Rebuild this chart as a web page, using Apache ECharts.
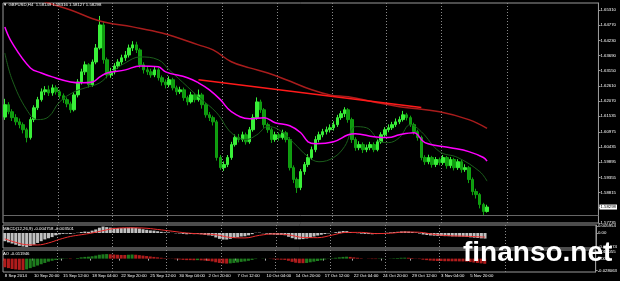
<!DOCTYPE html>
<html><head><meta charset="utf-8">
<script src="https://cdn.jsdelivr.net/npm/echarts@6/dist/echarts.min.js"></script>
<style>html,body{margin:0;padding:0;background:#000;}#c{width:620px;height:281px;}</style>
</head><body><div id="c"></div>
<script>
const timeLabels = ['8 Sep 2014','10 Sep 20:00','15 Sep 12:00','18 Sep 04:00','22 Sep 20:00','25 Sep 12:00','30 Sep 04:00','2 Oct 20:00','7 Oct 12:00','10 Oct 04:00','14 Oct 20:00','17 Oct 12:00','22 Oct 04:00','24 Oct 20:00','29 Oct 12:00','3 Nov 04:00','5 Nov 20:00'];
const priceTicks = [1.65310,1.64770,1.64230,1.63690,1.63150,1.62610,1.62070,1.61535,1.60975,1.60435,1.59895,1.59355,1.58815,1.58275,1.57735];
const macdTicks = [0.005954, 0, -0.011974];
const aoTicks = [0.016055, 0, -0.028063];
const lastPrice = 1.58298;
const gridLineIdx = [15,30,45,60,75,90,105,120,138];
const totalSlots = 163;

const opens = [1.6150,1.6194,1.6169,1.6148,1.6133,1.6123,1.6105,1.6077,1.6141,1.6183,
 1.6212,1.6240,1.6247,1.6236,1.6254,1.6240,1.6226,1.6212,1.6197,1.6176,
 1.6229,1.6275,1.6311,1.6336,1.6265,1.6346,1.6396,1.6478,1.6354,1.6300,
 1.6311,1.6332,1.6346,1.6361,1.6371,1.6396,1.6407,1.6389,1.6336,1.6318,
 1.6311,1.6300,1.6318,1.6290,1.6275,1.6265,1.6283,1.6254,1.6240,1.6247,
 1.6219,1.6204,1.6229,1.6212,1.6229,1.6194,1.6158,1.6148,1.6133,1.6006,
 1.5970,1.5981,1.6006,1.6052,1.6077,1.6070,1.6087,1.6062,1.6105,1.6148,
 1.6204,1.6176,1.6123,1.6105,1.6070,1.6087,1.6077,1.6094,1.6070,1.5970,
 1.5928,1.5899,1.5956,1.5981,1.6006,1.6034,1.6070,1.6087,1.6098,1.6105,
 1.6112,1.6123,1.6148,1.6162,1.6176,1.6141,1.6070,1.6041,1.6052,1.6034,
 1.6041,1.6052,1.6034,1.6062,1.6087,1.6105,1.6112,1.6123,1.6133,1.6141,
 1.6158,1.6148,1.6123,1.6098,1.6077,1.6006,1.5991,1.6006,1.5981,1.5999,
 1.5988,1.6006,1.5977,1.5999,1.5970,1.5991,1.5963,1.5970,1.5928,1.5885,
 1.5874,1.5839,1.5814];
const closes = [1.6194,1.6169,1.6148,1.6133,1.6123,1.6105,1.6077,1.6141,1.6183,1.6212,
 1.6240,1.6247,1.6236,1.6254,1.6240,1.6226,1.6212,1.6197,1.6176,1.6229,
 1.6275,1.6311,1.6336,1.6265,1.6346,1.6396,1.6478,1.6354,1.6300,1.6311,
 1.6332,1.6346,1.6361,1.6371,1.6396,1.6407,1.6389,1.6336,1.6318,1.6311,
 1.6300,1.6318,1.6290,1.6275,1.6265,1.6283,1.6254,1.6240,1.6247,1.6219,
 1.6204,1.6229,1.6212,1.6229,1.6194,1.6158,1.6148,1.6133,1.6006,1.5970,
 1.5981,1.6006,1.6052,1.6077,1.6070,1.6087,1.6062,1.6105,1.6148,1.6204,
 1.6176,1.6123,1.6105,1.6070,1.6087,1.6077,1.6094,1.6070,1.5970,1.5928,
 1.5899,1.5956,1.5981,1.6006,1.6034,1.6070,1.6087,1.6098,1.6105,1.6112,
 1.6123,1.6148,1.6162,1.6176,1.6141,1.6070,1.6041,1.6052,1.6034,1.6041,
 1.6052,1.6034,1.6062,1.6087,1.6105,1.6112,1.6123,1.6133,1.6141,1.6158,
 1.6148,1.6123,1.6098,1.6077,1.6006,1.5991,1.6006,1.5981,1.5999,1.5988,
 1.6006,1.5977,1.5999,1.5970,1.5991,1.5963,1.5970,1.5928,1.5885,1.5874,
 1.5839,1.5814,1.58298];
const lows = [1.6140,1.6160,1.6136,1.6121,1.6110,1.6092,1.6060,1.6070,1.6132,1.6175,
 1.6205,1.6228,1.6225,1.6226,1.6230,1.6215,1.6200,1.6185,1.6165,1.6170,
 1.6220,1.6266,1.6300,1.6255,1.6258,1.6338,1.6390,1.6340,1.6288,1.6290,
 1.6302,1.6322,1.6336,1.6350,1.6362,1.6385,1.6378,1.6325,1.6305,1.6300,
 1.6290,1.6292,1.6280,1.6262,1.6252,1.6256,1.6245,1.6228,1.6232,1.6208,
 1.6192,1.6198,1.6202,1.6205,1.6180,1.6148,1.6136,1.6120,1.5995,1.5962,
 1.5958,1.5972,1.5998,1.6045,1.6060,1.6062,1.6052,1.6055,1.6098,1.6140,
 1.6165,1.6112,1.6094,1.6058,1.6062,1.6066,1.6070,1.6060,1.5960,1.5915,
 1.5880,1.5890,1.5945,1.5972,1.5998,1.6025,1.6060,1.6078,1.6088,1.6095,
 1.6102,1.6115,1.6140,1.6150,1.6130,1.6058,1.6030,1.6032,1.6022,1.6025,
 1.6032,1.6025,1.6028,1.6055,1.6080,1.6096,1.6104,1.6115,1.6125,1.6134,
 1.6138,1.6115,1.6088,1.6066,1.5996,1.5980,1.5982,1.5970,1.5972,1.5978,
 1.5980,1.5966,1.5968,1.5960,1.5962,1.5952,1.5955,1.5915,1.5872,1.5860,
 1.5825,1.5800,1.5810];
const highs = [1.6215,1.6203,1.6178,1.6160,1.6145,1.6131,1.6112,1.6150,1.6192,1.6222,
 1.6252,1.6260,1.6262,1.6266,1.6263,1.6248,1.6234,1.6220,1.6205,1.6238,
 1.6285,1.6322,1.6348,1.6342,1.6355,1.6410,1.6510,1.6490,1.6362,1.6325,
 1.6342,1.6356,1.6372,1.6385,1.6408,1.6420,1.6418,1.6395,1.6345,1.6330,
 1.6322,1.6330,1.6326,1.6298,1.6284,1.6295,1.6290,1.6262,1.6258,1.6255,
 1.6226,1.6240,1.6236,1.6248,1.6236,1.6200,1.6168,1.6155,1.6140,1.6015,
 1.5992,1.6015,1.6062,1.6088,1.6090,1.6098,1.6095,1.6115,1.6160,1.6220,
 1.6212,1.6182,1.6130,1.6112,1.6098,1.6095,1.6105,1.6100,1.6078,1.5978,
 1.5935,1.5965,1.5990,1.6018,1.6045,1.6082,1.6098,1.6108,1.6116,1.6124,
 1.6135,1.6158,1.6172,1.6185,1.6182,1.6148,1.6078,1.6064,1.6060,1.6052,
 1.6062,1.6060,1.6072,1.6096,1.6114,1.6124,1.6133,1.6145,1.6152,1.6172,
 1.6165,1.6155,1.6130,1.6105,1.6084,1.6014,1.6016,1.6012,1.6008,1.6006,
 1.6015,1.6012,1.6008,1.6005,1.6000,1.5998,1.5982,1.5976,1.5935,1.5895,
 1.5880,1.5845,1.5838];

const maSlow = [[8,1.6575],[12,1.6556],[18,1.6531],[26,1.6492],[35,1.6471],[43,1.6449],[53,1.6407],[57,1.6389],[62,1.6347],[67,1.6325],[72,1.6307],[77,1.6283],[84,1.6247],[89,1.6229],[94,1.6222],[101,1.6204],[108,1.6187],[119,1.6169],[127,1.6141],[132,1.6110]];
const maMid = [[0,1.6471],[2,1.6414],[7,1.6325],[10,1.6307],[13,1.6293],[18,1.6275],[21,1.6272],[24,1.6275],[26,1.6293],[28,1.6307],[33,1.6318],[37,1.6332],[42,1.6329],[44,1.6311],[50,1.6290],[53,1.6272],[56,1.6247],[59,1.6212],[62,1.6169],[67,1.6144],[71,1.6148],[74,1.6130],[78,1.6119],[81,1.6094],[83,1.6062],[85,1.6055],[90,1.6062],[94,1.6087],[96,1.6091],[101,1.6080],[105,1.6077],[108,1.6087],[112,1.6094],[115,1.6059],[122,1.6041],[127,1.6027],[131,1.6006],[132,1.5993]];
const maFast = [[0,1.6378],[2,1.6283],[6,1.6176],[9,1.6141],[12,1.6151],[15,1.6204],[19,1.6240],[22,1.6254],[26,1.6272],[29,1.6307],[33,1.6343],[37,1.6364],[42,1.6354],[45,1.6318],[50,1.6258],[53,1.6222],[58,1.6165],[62,1.6094],[66,1.6070],[69,1.6087],[72,1.6116],[75,1.6105],[79,1.6059],[83,1.6009],[86,1.5991],[90,1.6006],[93,1.6045],[96,1.6116],[99,1.6112],[103,1.6062],[105,1.6059],[108,1.6077],[111,1.6123],[114,1.6098],[119,1.6027],[124,1.6006],[130,1.5956],[132,1.5922]];
const trendLine = [[53,1.6283],[114,1.6184]];

const macdHist = [-0.0070,-0.0080,-0.0090,-0.0100,-0.0110,-0.0115,-0.01197,-0.0110,-0.0100,-0.0085,
 -0.0070,-0.0055,-0.0045,-0.0035,-0.0020,-0.0012,-0.0008,-0.0006,-0.0008,-0.0003,
 0.0002,0.0008,0.0012,0.0010,0.0020,0.0030,0.0045,0.0055,0.0050,0.0046,
 0.0044,0.0042,0.0042,0.0043,0.0045,0.0046,0.0044,0.0038,0.0032,0.0027,
 0.0022,0.0020,0.0015,0.0010,0.0006,0.0005,0.0001,-0.0003,-0.0004,-0.0008,
 -0.0011,-0.0009,-0.0010,-0.0008,-0.0011,-0.0016,-0.0020,-0.0024,-0.0038,-0.0050,
 -0.0056,-0.0056,-0.0050,-0.0042,-0.0037,-0.0030,-0.0028,-0.0020,-0.0010,0.0002,
 0.0003,-0.0002,-0.0006,-0.0012,-0.0014,-0.0016,-0.0016,-0.0019,-0.0032,-0.0044,
 -0.0054,-0.0054,-0.0052,-0.0047,-0.0040,-0.0030,-0.0022,-0.0015,-0.0009,-0.0004,
 0.0001,0.0007,0.0012,0.0017,0.0016,0.0008,0.0002,-0.0002,-0.0006,-0.0008,
 -0.0009,-0.0011,-0.0009,-0.0006,-0.0002,0.0002,0.0005,0.0008,0.0010,0.0013,
 0.0014,0.0012,0.0009,0.0005,-0.0005,-0.0013,-0.0017,-0.0021,-0.0023,-0.0025,
 -0.0025,-0.0027,-0.0027,-0.0029,-0.0029,-0.0030,-0.0031,-0.0034,-0.0037,-0.0040,
 -0.0043,-0.0046,-0.004758];
const macdSignal = [[0,-0.0050],[3,-0.0080],[6,-0.0100],[9,-0.0102],[12,-0.0085],[15,-0.0055],[18,-0.0030],[21,-0.0015],[24,0.0000],[27,0.0020],[30,0.0038],[34,0.0044],[38,0.0042],[42,0.0030],[46,0.0015],[50,0.0000],[54,-0.0008],[58,-0.0015],[62,-0.0038],[66,-0.0042],[70,-0.0020],[74,-0.0008],[78,-0.0016],[82,-0.0038],[86,-0.0040],[90,-0.0018],[94,0.0005],[98,0.0005],[102,-0.0005],[106,-0.0002],[110,0.0008],[114,0.0006],[118,-0.0012],[122,-0.0023],[126,-0.0027],[130,-0.0032],[132,-0.003501]];
const aoValues = [-0.0200,-0.0220,-0.0240,-0.0250,-0.0260,-0.0265,-0.0250,-0.0220,-0.0190,-0.0160,
 -0.0130,-0.0100,-0.0070,-0.0050,-0.0030,-0.0015,-0.0010,-0.0005,-0.0010,0.0000,
 0.0015,0.0030,0.0040,0.0045,0.0055,0.0070,0.0090,0.0100,0.0105,0.0100,
 0.0095,0.0090,0.0085,0.0085,0.0090,0.0095,0.0090,0.0080,0.0070,0.0060,
 0.0050,0.0040,0.0030,0.0020,0.0010,0.0005,-0.0005,-0.0015,-0.0020,-0.0030,
 -0.0035,-0.0035,-0.0038,-0.0035,-0.0040,-0.0045,-0.0055,-0.0065,-0.0085,-0.0100,
 -0.0110,-0.0115,-0.0110,-0.0100,-0.0090,-0.0075,-0.0065,-0.0050,-0.0030,-0.0010,
 0.0000,0.0005,0.0000,-0.0005,-0.0015,-0.0020,-0.0025,-0.0030,-0.0050,-0.0075,
 -0.0095,-0.0105,-0.0105,-0.0100,-0.0085,-0.0070,-0.0055,-0.0040,-0.0020,-0.0005,
 0.0010,0.0020,0.0030,0.0040,0.0045,0.0040,0.0030,0.0020,0.0010,0.0000,
 -0.0005,-0.0010,-0.0010,-0.0008,-0.0005,0.0000,0.0005,0.0010,0.0015,0.0020,
 0.0022,0.0020,0.0015,0.0005,-0.0010,-0.0025,-0.0035,-0.0045,-0.0050,-0.0055,
 -0.0055,-0.0060,-0.0060,-0.0062,-0.0062,-0.0064,-0.0065,-0.0070,-0.0080,-0.0090,
 -0.0100,-0.0110,-0.011946];

const categories = [];
for (let i = 0; i < totalSlots; i++) categories.push(String(i));
const candles = opens.map((o, i) => [o, closes[i], lows[i], highs[i]]);
let prevColor = '#b01c1c';
const aoData = aoValues.map((v, i) => {
  if (i > 0) {
    if (v > aoValues[i - 1]) prevColor = '#1e7b1e';
    else if (v < aoValues[i - 1]) prevColor = '#b01c1c';
  }
  return { value: v, itemStyle: { color: prevColor } };
});

const FONT = 'Liberation Sans';
const smallText = { color: '#fff', fontSize: 4.3, fontFamily: FONT, fontWeight: 'normal' };
const splitIv = (i) => gridLineIdx.indexOf(i) >= 0;
const xBase = (gi) => ({
  type: 'category', gridIndex: gi, data: categories, boundaryGap: true,
  axisLine: { show: false }, axisTick: { show: false }, axisLabel: { show: false },
  splitLine: { show: true, interval: splitIv, lineStyle: { color: '#8a8a8a', width: 1, type: [1, 2] } }
});
const xLast = xBase(2);
xLast.axisLabel = {
  show: true, interval: (i) => i % 8 === 0 && i / 8 < timeLabels.length,
  formatter: (v, i) => timeLabels[Math.round(i / 8)] || '', align: 'left',
  color: '#fff', fontSize: 4.3, fontFamily: FONT, margin: 2
};
xLast.axisTick = { show: true, interval: (i) => i % 8 === 0 && i / 8 < timeLabels.length, length: 2, lineStyle: { color: '#aaa' } };

const yBase = (gi, min, max, ticks, fmt) => ({
  type: 'value', gridIndex: gi, position: 'right', min: min, max: max, scale: true,
  axisLine: { show: true, lineStyle: { color: '#999' } },
  axisTick: { show: true, customValues: ticks, length: 2, lineStyle: { color: '#999' } },
  axisLabel: { show: true, customValues: ticks, formatter: fmt, color: '#fff', fontSize: 4.3, fontFamily: FONT, margin: 2 },
  splitLine: { show: false }
});
const priceBoxAxis = {
  type: 'value', gridIndex: 0, position: 'right', min: 1.5773, max: 1.6556, scale: true,
  axisLine: { show: false }, axisTick: { show: false }, splitLine: { show: false },
  axisLabel: { show: true, customValues: [lastPrice], formatter: (v) => v.toFixed(5), color: '#000', backgroundColor: '#fff', padding: [1, 1, 0, 1], fontSize: 4.3, fontFamily: FONT, margin: 1 }
};

const chart = echarts.init(document.getElementById('c'), null, { renderer: 'canvas' });
chart.setOption({
  backgroundColor: '#000',
  animation: false,
  title: [
    { text: '\u25BC GBPUSD,H4  1.58149 1.58316 1.58127 ' + lastPrice.toFixed(5), left: 3, top: 3, padding: 0, textStyle: smallText },
    { text: 'MACD(12,26,9) ' + macdHist[macdHist.length - 1].toFixed(6) + ' ' + macdSignal[macdSignal.length - 1][1].toFixed(6), left: 3, top: 227, padding: 0, textStyle: smallText },
    { text: 'AO ' + aoValues[aoValues.length - 1].toFixed(6), left: 3, top: 252, padding: 0, textStyle: smallText },
    { text: 'finanso.net', left: 463, top: 239, padding: 0, textStyle: { color: '#fff', fontSize: 28, fontWeight: 'bold', fontFamily: FONT } }
  ],
  grid: [
    { left: 3, top: 3, width: 596, height: 220, show: true, borderColor: '#999', borderWidth: 1 },
    { left: 3, top: 225, width: 596, height: 23, show: true, borderColor: '#999', borderWidth: 1 },
    { left: 3, top: 250, width: 596, height: 22, show: true, borderColor: '#999', borderWidth: 1 }
  ],
  xAxis: [xBase(0), xBase(1), xLast],
  yAxis: [
    yBase(0, 1.5773, 1.6556, priceTicks, (v) => v.toFixed(5)),
    yBase(1, -0.0128, 0.0068, macdTicks, (v) => v === 0 ? '0.00' : v.toFixed(6)),
    yBase(2, -0.031, 0.020, aoTicks, (v) => v === 0 ? '0.00' : v.toFixed(6)),
    priceBoxAxis
  ],
  series: [
    {
      type: 'candlestick', xAxisIndex: 0, yAxisIndex: 0, data: candles, barWidth: 3,
      itemStyle: { color: '#39f039', color0: '#0f9a0f', borderColor: '#39f039', borderColor0: '#10a010', borderWidth: 1 },
      markLine: {
        silent: true, symbol: ['none', 'none'], animation: false,
        lineStyle: { color: '#666', width: 1, type: 'solid' },
        label: { show: false },
        data: [{ yAxis: lastPrice }]
      }
    },
    { type: 'line', xAxisIndex: 0, yAxisIndex: 0, data: maFast, smooth: 0.4, showSymbol: false, lineStyle: { color: '#1b5e1b', width: 1 } },
    { type: 'line', xAxisIndex: 0, yAxisIndex: 0, data: maSlow, smooth: 0.4, showSymbol: false, lineStyle: { color: '#a81c1c', width: 1.5 } },
    { type: 'line', xAxisIndex: 0, yAxisIndex: 0, data: trendLine, showSymbol: false, lineStyle: { color: '#ff1a1a', width: 1.5 } },
    { type: 'line', xAxisIndex: 0, yAxisIndex: 0, data: maMid, smooth: 0.4, showSymbol: false, lineStyle: { color: '#ff00ff', width: 1.5 } },
    { type: 'bar', xAxisIndex: 1, yAxisIndex: 1, data: macdHist, barWidth: 3, itemStyle: { color: '#c0c0c0' } },
    { type: 'line', xAxisIndex: 1, yAxisIndex: 1, data: macdSignal, smooth: 0.4, showSymbol: false, lineStyle: { color: '#ee3030', width: 1 } },
    { type: 'bar', xAxisIndex: 2, yAxisIndex: 2, data: aoData, barWidth: 3 }
  ]
});
</script>
</body></html>
